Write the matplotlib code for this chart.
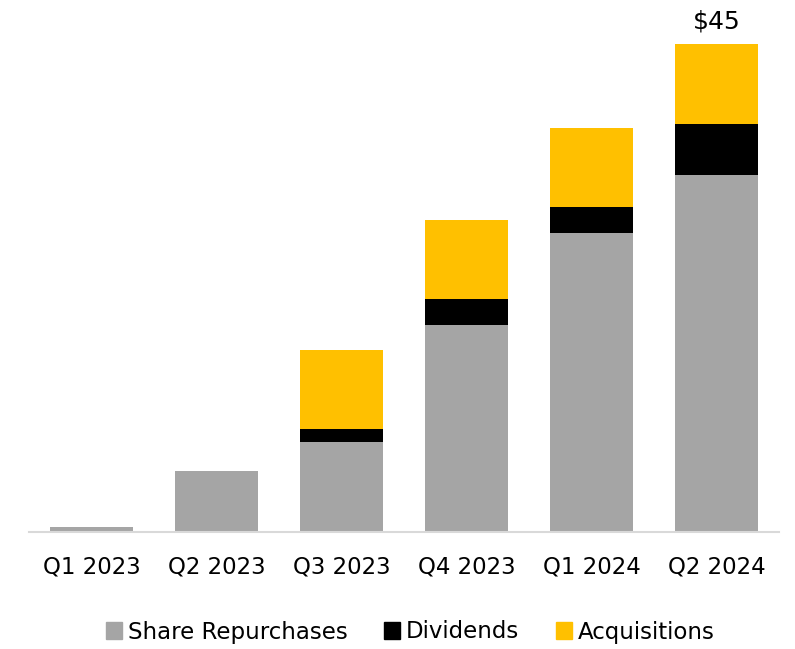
import matplotlib
matplotlib.use("Agg")
import matplotlib.pyplot as plt
from matplotlib.patches import Patch
import numpy as np

quarters = ["Q1 2023", "Q2 2023", "Q3 2023", "Q4 2023", "Q1 2024", "Q2 2024"]
share_repurchases = [0.45, 5.6, 8.3, 19.1, 27.6, 32.9]
dividends = [0.0, 0.0, 1.2, 2.4, 2.4, 4.7]
acquisitions = [0.0, 0.0, 7.3, 7.3, 7.3, 7.4]
total_label = "$45"

c_rep = "#A5A5A5"
c_div = "#000000"
c_acq = "#FFC000"

plt.rcParams["font.family"] = ["DejaVu Sans"]

fig = plt.figure(figsize=(7.95, 6.49), dpi=100)
ax = fig.add_axes([29 / 795, (649 - 532) / 649, 750 / 795, 488 / 649])

x = np.arange(len(quarters))
w = 0.664
rep = np.array(share_repurchases)
div = np.array(dividends)
acq = np.array(acquisitions)
ax.bar(x, rep, w, color=c_rep, label="Share Repurchases")
ax.bar(x, div, w, bottom=rep, color=c_div, label="Dividends")
ax.bar(x, acq, w, bottom=rep + div, color=c_acq, label="Acquisitions")

tot = rep + div + acq
ax.annotate(total_label, (x[-1], tot[-1]), xytext=(0, 16), textcoords="offset points",
            ha="center", va="center", fontsize=18, annotation_clip=False)

ax.set_xlim(-0.5, len(quarters) - 0.5)
ax.set_ylim(0, 45)
ax.set_xticks(x)
ax.set_xticklabels(quarters, fontsize=16.5)
ax.tick_params(axis="x", length=0, pad=17)
ax.set_yticks([])
for s in ["top", "right", "left"]:
    ax.spines[s].set_visible(False)
ax.spines["bottom"].set_color("#D9D9D9")
ax.spines["bottom"].set_linewidth(1.5)

handles = [Patch(color=c_rep), Patch(color=c_div), Patch(color=c_acq)]
fig.legend(handles, ["Share Repurchases", "Dividends", "Acquisitions"],
           loc="center", bbox_to_anchor=(410 / 795, 1 - 632 / 649), ncol=3,
           frameon=False, fontsize=16.5, handlelength=0.7, handleheight=0.7,
           handletextpad=0.25, columnspacing=1.6)

fig.savefig("out.png", dpi=100)
